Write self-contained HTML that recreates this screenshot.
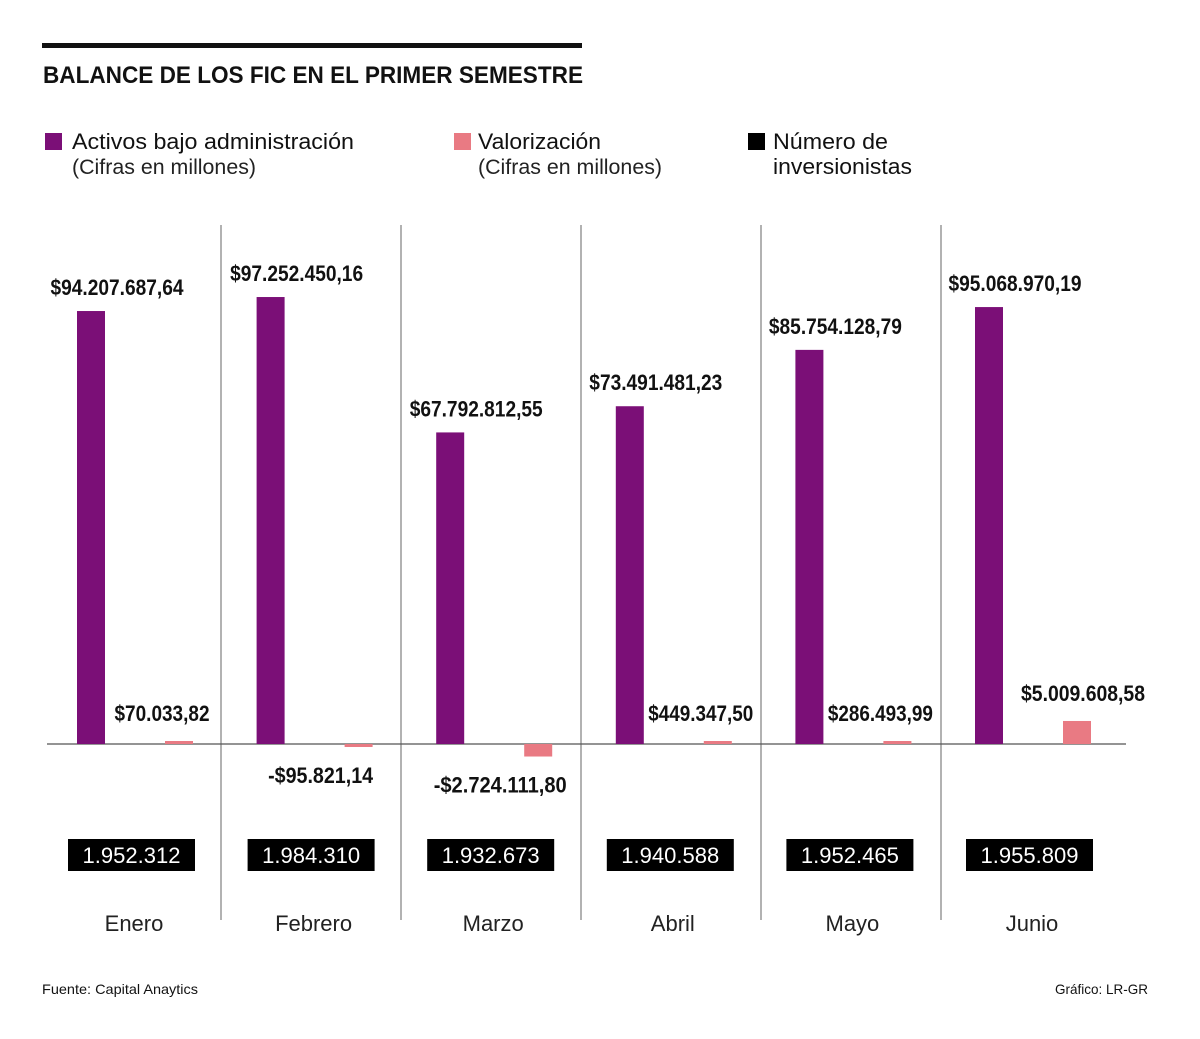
<!DOCTYPE html>
<html><head><meta charset="utf-8"><style>
html,body{margin:0;padding:0;background:#fff;}
svg{display:block;font-family:"Liberation Sans",sans-serif;}
</style></head><body>
<svg id="chart" width="1200" height="1039" viewBox="0 0 1200 1039">
<rect x="42" y="43" width="540" height="5" fill="#111"/>
<text x="43" y="83" font-size="24" font-weight="bold" fill="#111" textLength="540" lengthAdjust="spacingAndGlyphs">BALANCE DE LOS FIC EN EL PRIMER SEMESTRE</text>
<g>
<rect x="45" y="133" width="17" height="17" fill="#7b0f77"/>
<text x="72" y="149" font-size="22" fill="#111" textLength="282" lengthAdjust="spacingAndGlyphs">Activos bajo administración</text>
<text x="72" y="174" font-size="21" fill="#222" textLength="184" lengthAdjust="spacingAndGlyphs">(Cifras en millones)</text>
<rect x="454" y="133" width="17" height="17" fill="#e97a83"/>
<text x="478" y="149" font-size="22" fill="#111" textLength="123" lengthAdjust="spacingAndGlyphs">Valorización</text>
<text x="478" y="174" font-size="21" fill="#222" textLength="184" lengthAdjust="spacingAndGlyphs">(Cifras en millones)</text>
<rect x="748" y="133" width="17" height="17" fill="#000"/>
<text x="773" y="149" font-size="22" fill="#111" textLength="115" lengthAdjust="spacingAndGlyphs">Número de</text>
<text x="773" y="174" font-size="22" fill="#111" textLength="139" lengthAdjust="spacingAndGlyphs">inversionistas</text>
</g>
<g id="plot"></g>
<text x="42" y="994" font-size="14" fill="#111" textLength="156" lengthAdjust="spacingAndGlyphs">Fuente: Capital Anaytics</text>
<text x="1148" y="994" font-size="14" fill="#111" text-anchor="end" textLength="93" lengthAdjust="spacingAndGlyphs">Gráfico: LR-GR</text>
</svg>
<script>
const months = ["Enero","Febrero","Marzo","Abril","Mayo","Junio"];
const activos = [94.20768764, 97.25245016, 67.79281255, 73.49148123, 85.75412879, 95.06897019];
const activosLabels = ["$94.207.687,64","$97.252.450,16","$67.792.812,55","$73.491.481,23","$85.754.128,79","$95.068.970,19"];
const valorizacion = [0.07003382, -0.09582114, -2.7241118, 0.4493475, 0.28649399, 5.00960858];
const valorizacionLabels = ["$70.033,82","-$95.821,14","-$2.724.111,80","$449.347,50","$286.493,99","$5.009.608,58"];
const inversionistas = ["1.952.312","1.984.310","1.932.673","1.940.588","1.952.465","1.955.809"];

const NS="http://www.w3.org/2000/svg";
const g=document.getElementById('plot');
const base=744, pxPerM=4.596;
const y=v=>base - v*pxPerM;
const colX=i=>77+i*179.6;
function mk(tag,attrs,txt){const e=document.createElementNS(NS,tag);for(const k in attrs)e.setAttribute(k,attrs[k]);if(txt!==undefined)e.textContent=txt;g.appendChild(e);return e;}
function lw(s,per){return Math.round(s.length*per);}

for(let i=1;i<6;i++){
  const d=mk('line',{x1:221+(i-1)*180,x2:221+(i-1)*180,y1:225,y2:920,stroke:'#888','stroke-width':1.3});
  
  
}
const ax=mk('line',{x1:47,x2:1126,y1:base,y2:base,stroke:'#555','stroke-width':1.3});



months.forEach((m,i)=>{
  const x=colX(i);
  const top=y(activos[i]);
  const b=mk('rect',{x:x,y:top,width:28,height:base-top,fill:'#7b0f77'});
  
  
  const t=mk('text',{x:x+40,y:top-16,'font-size':22,'font-weight':'bold','text-anchor':'middle',fill:'#111',textLength:lw(activosLabels[i],9.5),lengthAdjust:'spacingAndGlyphs'},activosLabels[i]);
  
  

  const px=x+88, v=valorizacion[i];
  let h=Math.abs(v)*pxPerM; if(h<3)h=3;
  const py=v>=0?base-h:base;
  const p=mk('rect',{x:px,y:py,width:28,height:h,fill:'#e97a83'});
  
  
  const ly=v>=0?Math.min(py,base-3)-20:py+h+36;
  const lx=v>=0?(i===5?px+20:px-3):px-24;
  const vt=mk('text',{x:lx,y:ly,'font-size':22,'font-weight':'bold','text-anchor':'middle',fill:'#111',textLength:lw(valorizacionLabels[i],9.5),lengthAdjust:'spacingAndGlyphs'},valorizacionLabels[i]);
  
  

  const bx=x-9;
  const box=mk('rect',{x:bx,y:839,width:127,height:32,fill:'#000'});
  
  
  const it=mk('text',{x:bx+63.5,y:863,'font-size':22,'text-anchor':'middle',fill:'#fff',textLength:98,lengthAdjust:'spacingAndGlyphs'},inversionistas[i]);
  
  

  const mt=mk('text',{x:x+57,y:931,'font-size':22,'text-anchor':'middle',fill:'#222'},m);
  
  
});
</script>
</body></html>
